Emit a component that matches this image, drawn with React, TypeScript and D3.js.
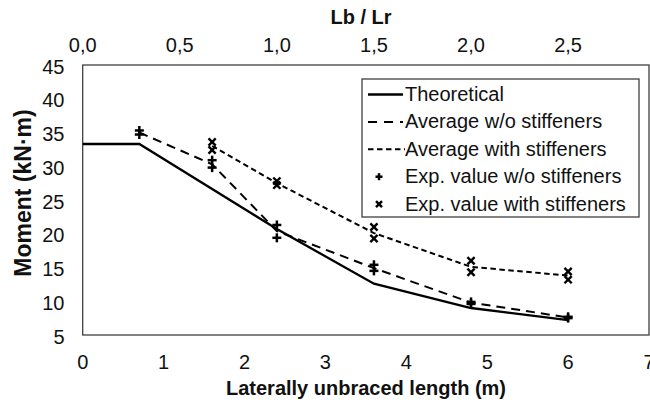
import React from "react";
import * as d3 from "d3";

const W = 650;
const H = 404;

// Data
const theoX = [0, 0.7, 2.4, 3.6, 4.8, 6.0];
const theoY = [33.3, 33.3, 20.7, 12.6, 9.0, 7.2];

const avgWoX = [0.7, 1.6, 2.4, 3.6, 4.8, 6.0];
const avgWoY = [35.0, 30.3, 20.4, 14.9, 9.8, 7.6];

const avgWithX = [1.6, 2.4, 3.6, 4.8, 6.0];
const avgWithY = [33.0, 27.5, 20.1, 15.1, 13.8];

const expWoX = [0.7, 0.7, 1.6, 1.6, 2.4, 2.4, 3.6, 3.6, 4.8, 4.8, 6.0, 6.0];
const expWoY = [35.3, 34.7, 30.9, 29.8, 21.3, 19.4, 15.4, 14.5, 9.9, 9.6, 7.7, 7.5];

const expWithX = [1.6, 1.6, 2.4, 2.4, 3.6, 3.6, 4.8, 4.8, 6.0, 6.0];
const expWithY = [33.6, 32.4, 27.8, 27.2, 21.0, 19.3, 16.0, 14.3, 14.4, 13.2];

const xTicks = [0, 1, 2, 3, 4, 5, 6, 7];
const yTicks = [5, 10, 15, 20, 25, 30, 35, 40, 45];
const topTicks = [0, 0.5, 1.0, 1.5, 2.0, 2.5];
const Lr = 2.4;

const legendItems = [
  { label: "Theoretical", kind: "solid" },
  { label: "Average w/o stiffeners", kind: "longdash" },
  { label: "Average with stiffeners", kind: "shortdash" },
  { label: "Exp. value w/o stiffeners", kind: "plus" },
  { label: "Exp. value with stiffeners", kind: "cross" },
];

const FONT = "'Liberation Sans', Arial, sans-serif";
const FS = 20;

const left = 82.7;
const right = 649;
const top = 65;
const bottom = 335;

const x = d3.scaleLinear().domain([0, 7]).range([left, right]);
const y = d3.scaleLinear().domain([5, 45]).range([bottom, top]);
const xTop = d3.scaleLinear().domain([0, 7 / Lr]).range([left, right]);

const line = d3
  .line<[number, number]>()
  .x((d) => x(d[0]))
  .y((d) => y(d[1]));

const zip = (a: number[], b: number[]) => a.map((v, i) => [v, b[i]] as [number, number]);

const fmtComma = (v: number) => d3.format(".1f")(v).replace(".", ",");

function Plus({ cx, cy, s = 4.5 }: { cx: number; cy: number; s?: number }) {
  return (
    <g stroke="#000" strokeWidth={2.5}>
      <line x1={cx - s} x2={cx + s} y1={cy} y2={cy} />
      <line x1={cx} x2={cx} y1={cy - s} y2={cy + s} />
    </g>
  );
}

function Cross({ cx, cy, s = 3.6 }: { cx: number; cy: number; s?: number }) {
  return (
    <g stroke="#000" strokeWidth={2.4}>
      <line x1={cx - s} x2={cx + s} y1={cy - s} y2={cy + s} />
      <line x1={cx - s} x2={cx + s} y1={cy + s} y2={cy - s} />
    </g>
  );
}

export default function App() {
  const legX = 362;
  const legY = 79;
  const legW = 277;
  const legH = 138;
  const rowY = (i: number) => 94.5 + i * 27.4;

  return (
    <svg
      width={W}
      height={H}
      style={{ position: "absolute", left: 0, top: 0, background: "#fff" }}
      fontFamily={FONT}
    >
      <rect x={0} y={0} width={W} height={H} fill="#fff" />
      {/* plot frame */}
      <rect
        x={left}
        y={top}
        width={right - left}
        height={bottom - top}
        fill="none"
        stroke="#404040"
        strokeWidth={1.3}
      />

      {/* y tick labels */}
      {yTicks.map((t) => (
        <text key={"y" + t} x={64.5} y={y(t) + 8.5} textAnchor="end" fontSize={FS} fill="#111">
          {t}
        </text>
      ))}
      {/* bottom x tick labels */}
      {xTicks.map((t) => (
        <text key={"x" + t} x={x(t)} y={368.5} textAnchor="middle" fontSize={FS} fill="#111">
          {t}
        </text>
      ))}
      {/* top tick labels */}
      {topTicks.map((t) => (
        <text key={"t" + t} x={xTop(t)} y={51.5} textAnchor="middle" fontSize={FS} fill="#111">
          {fmtComma(t)}
        </text>
      ))}

      {/* axis titles */}
      <text x={361} y={23.5} textAnchor="middle" fontSize={FS} fontWeight="bold" fill="#111">
        Lb / Lr
      </text>
      <text x={366} y={395} textAnchor="middle" fontSize={FS} fontWeight="bold" fill="#111">
        Laterally unbraced length (m)
      </text>
      <text
        transform={`translate(31,193) rotate(-90)`}
        textAnchor="middle"
        fontSize={23}
        fontWeight="bold"
        fill="#111"
      >
        Moment (kN·m)
      </text>

      {/* lines */}
      <path d={line(zip(theoX, theoY)) || ""} fill="none" stroke="#000" strokeWidth={2.3} />
      <path
        d={line(zip(avgWoX, avgWoY)) || ""}
        fill="none"
        stroke="#000"
        strokeWidth={2}
        strokeDasharray="9,6"
      />
      <path
        d={line(zip(avgWithX, avgWithY)) || ""}
        fill="none"
        stroke="#000"
        strokeWidth={2}
        strokeDasharray="5.5,3.5"
      />

      {/* markers */}
      {zip(expWoX, expWoY).map((d, i) => (
        <Plus key={"p" + i} cx={x(d[0])} cy={y(d[1])} />
      ))}
      {zip(expWithX, expWithY).map((d, i) => (
        <Cross key={"c" + i} cx={x(d[0])} cy={y(d[1])} />
      ))}

      {/* legend */}
      <rect x={legX} y={legY} width={legW} height={legH} fill="#fff" stroke="#404040" strokeWidth={1.3} />
      {legendItems.map((it, i) => {
        const ry = rowY(i);
        let sym: React.ReactNode = null;
        if (it.kind === "solid")
          sym = <line x1={368} x2={403} y1={ry} y2={ry} stroke="#000" strokeWidth={2.3} />;
        else if (it.kind === "longdash")
          sym = (
            <line x1={368} x2={403} y1={ry} y2={ry} stroke="#000" strokeWidth={2} strokeDasharray="9,7" />
          );
        else if (it.kind === "shortdash")
          sym = (
            <line x1={368} x2={405} y1={ry} y2={ry} stroke="#000" strokeWidth={2} strokeDasharray="5.5,3.5" />
          );
        else if (it.kind === "plus") sym = <Plus cx={379} cy={ry} s={3.5} />;
        else sym = <Cross cx={379} cy={ry} s={3} />;
        return (
          <g key={it.label}>
            {sym}
            <text x={405} y={ry + 6.5} fontSize={FS} fill="#111">
              {it.label}
            </text>
          </g>
        );
      })}
    </svg>
  );
}
